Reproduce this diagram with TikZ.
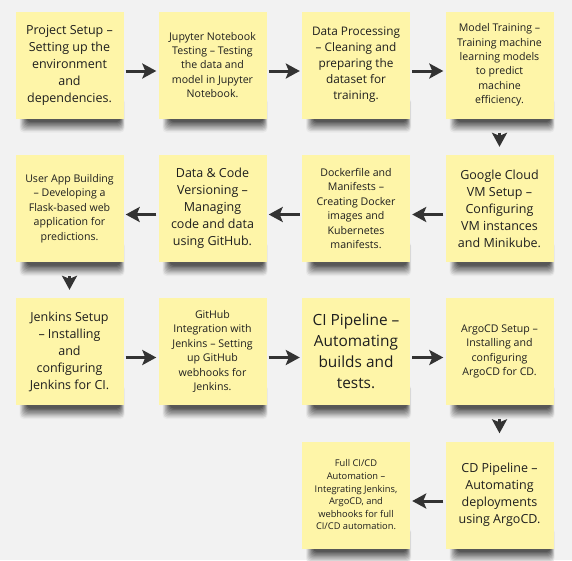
\documentclass[tikz,border=0pt]{standalone}
\usepackage{fontspec}
\setmainfont{Open Sans}
\usetikzlibrary{arrows.meta}
\definecolor{bg}{HTML}{F2F2F2}
\definecolor{sticky}{HTML}{FEF5A8}
\definecolor{ink}{HTML}{1E1E1E}
\definecolor{arrowc}{HTML}{333333}
\begin{document}
\begin{tikzpicture}[x=1pt,y=-1pt,
  note/.style={fill=sticky, minimum width=108pt, minimum height=107pt, inner sep=0pt, align=center, text=ink},
  fXL/.style={font=\fontsize{15.4}{21}\selectfont},
  fL/.style={font=\fontsize{12.5}{17}\selectfont},
  fM/.style={font=\fontsize{11.8}{16}\selectfont},
  fS/.style={font=\fontsize{10.6}{14.4}\selectfont},
  fXS/.style={font=\fontsize{9.3}{12.6}\selectfont},
  flow/.style={draw=arrowc, line width=3pt, -{Stealth[length=14pt,width=15pt,inset=3pt]}}
]
\useasboundingbox (0,0) rectangle (572,560);
\fill[bg] (0,0) rectangle (572,560);
% shadows under the notes
\foreach \cx/\cy in {69.5/65,212.5/65,356/65,499.5/65,69.5/208.5,212.5/208.5,356/208.5,499.5/208.5,69.5/351.5,212.5/351.5,356/351.5,499.5/351.5,356/495,499.5/495}{
  \foreach \k in {0,...,8}{
    \pgfmathsetmacro{\shade}{int(96-7.5*\k)}
    \fill[fill=bg!\shade!black,rounded corners=4pt] (\cx-50+0.9*\k,\cy+33) rectangle (\cx+55-0.5*\k,\cy+67.5-1.3*\k);
  }
}
% row 1
\node[note,fL] (n1) at (69.5,65) {Project Setup –\\Setting up the\\environment\\and\\dependencies.};
\node[note,fS] (n2) at (212.5,65) {Jupyter Notebook\\Testing – Testing\\the data and\\model in Jupyter\\Notebook.};
\node[note,fM] (n3) at (356,65) {Data Processing\\– Cleaning and\\preparing the\\dataset for\\training.};
\node[note,fS] (n4) at (499.5,65) {Model Training –\\Training machine\\learning models\\to predict\\machine\\efficiency.};
% row 2
\node[note,fL] (n5) at (499.5,208.5) {Google Cloud\\VM Setup –\\Configuring\\VM instances\\and Minikube.};
\node[note,fS] (n6) at (356,208.5) {Dockerfile and\\Manifests –\\Creating Docker\\images and\\Kubernetes\\manifests.};
\node[note,fL] (n7) at (212.5,208.5) {Data \& Code\\Versioning –\\Managing\\code and data\\using GitHub.};
\node[note,fS] (n8) at (69.5,208.5) {User App Building\\– Developing a\\Flask-based web\\application for\\predictions.};
% row 3
\node[note,fL] (n9) at (69.5,351.5) {Jenkins Setup\\– Installing\\and\\configuring\\Jenkins for CI.};
\node[note,fS] (n10) at (212.5,351.5) {GitHub\\Integration with\\Jenkins – Setting\\up GitHub\\webhooks for\\Jenkins.};
\node[note,fXL] (n11) at (356,351.5) {CI Pipeline –\\Automating\\builds and\\tests.};
\node[note,fS] (n12) at (499.5,351.5) {ArgoCD Setup –\\Installing and\\configuring\\ArgoCD for CD.};
% row 4
\node[note,fL] (n13) at (499.5,495) {CD Pipeline –\\Automating\\deployments\\using ArgoCD.};
\node[note,fXS] (n14) at (356,495) {Full CI/CD\\Automation –\\Integrating Jenkins,\\ArgoCD, and\\webhooks for full\\CI/CD automation.};
% connectors
\draw[flow] ([xshift=2pt,yshift=-6pt]n1.east) -- ([xshift=-2pt,yshift=-6pt]n2.west);
\draw[flow] ([xshift=2pt,yshift=-6pt]n2.east) -- ([xshift=-2pt,yshift=-6pt]n3.west);
\draw[flow] ([xshift=2pt,yshift=-6pt]n3.east) -- ([xshift=-2pt,yshift=-6pt]n4.west);
\draw[flow] ([yshift=-14pt]n4.south) -- ([yshift=8pt]n5.north);
\draw[flow] ([xshift=-2pt,yshift=-6pt]n5.west) -- ([xshift=2pt,yshift=-6pt]n6.east);
\draw[flow] ([xshift=-2pt,yshift=-6pt]n6.west) -- ([xshift=2pt,yshift=-6pt]n7.east);
\draw[flow] ([xshift=-2pt,yshift=-6pt]n7.west) -- ([xshift=2pt,yshift=-6pt]n8.east);
\draw[flow] ([yshift=-14pt]n8.south) -- ([yshift=8pt]n9.north);
\draw[flow] ([xshift=2pt,yshift=-6pt]n9.east) -- ([xshift=-2pt,yshift=-6pt]n10.west);
\draw[flow] ([xshift=2pt,yshift=-6pt]n10.east) -- ([xshift=-2pt,yshift=-6pt]n11.west);
\draw[flow] ([xshift=2pt,yshift=-6pt]n11.east) -- ([xshift=-2pt,yshift=-6pt]n12.west);
\draw[flow] ([yshift=-14pt]n12.south) -- ([yshift=8pt]n13.north);
\draw[flow] ([xshift=-2pt,yshift=-6pt]n13.west) -- ([xshift=2pt,yshift=-6pt]n14.east);
\end{tikzpicture}
\end{document}
